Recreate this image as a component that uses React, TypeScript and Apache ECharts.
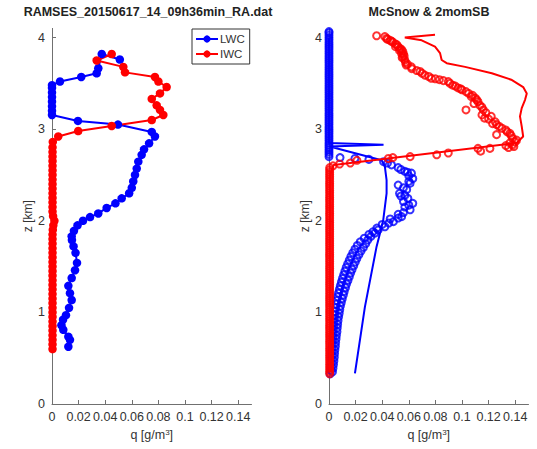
import React, { useEffect, useRef } from "react";
import * as echarts from "echarts";

// ---------- Left panel: RAMSES observation ([q g/m3, z km]) ----------
const obsLwc: [number, number][] = [
  [0.0123, 0.625], [0.0135, 0.70], [0.0123, 0.735], [0.0085, 0.81], [0.0071, 0.86], [0.0083, 0.92],
  [0.0105, 0.97], [0.0128, 1.05], [0.0148, 1.135], [0.0135, 1.21], [0.0123, 1.29], [0.0148, 1.375],
  [0.0173, 1.46], [0.0188, 1.54], [0.0177, 1.65], [0.0162, 1.72], [0.0150, 1.79], [0.0148, 1.83],
  [0.0165, 1.89], [0.0192, 1.95], [0.0233, 2.00], [0.0286, 2.04], [0.0348, 2.08], [0.0411, 2.14],
  [0.0477, 2.19], [0.0524, 2.245], [0.0580, 2.30], [0.0600, 2.36], [0.0611, 2.43], [0.0624, 2.50],
  [0.0637, 2.57], [0.0649, 2.645], [0.0674, 2.72], [0.0692, 2.78], [0.0730, 2.845], [0.0774, 2.92],
  [0.0750, 2.97], [0.0496, 3.05], [0.0195, 3.09], [0, 3.155], [0, 3.20], [0, 3.25], [0, 3.30],
  [0, 3.35], [0, 3.40], [0, 3.45], [0, 3.48], [0.0060, 3.52], [0.0220, 3.57], [0.0336, 3.61],
  [0.0348, 3.665], [0.0374, 3.82], [0.0510, 3.76],
];

const obsIwc: [number, number][] = [
  [0.0004, 0.60], [0.0004, 0.65], [0.0004, 0.70], [0.0004, 0.75], [0.0004, 0.80], [0.0004, 0.85],
  [0.0004, 0.90], [0.0004, 0.95], [0.0004, 1.00], [0.0004, 1.05], [0.0004, 1.10], [0.0004, 1.15],
  [0.0004, 1.20], [0.0004, 1.25], [0.0004, 1.30], [0.0004, 1.35], [0.0004, 1.40], [0.0004, 1.45],
  [0.0004, 1.50], [0.0004, 1.55], [0.0004, 1.60], [0.0004, 1.65], [0.0004, 1.70], [0.0004, 1.75],
  [0.0004, 1.80], [0.0004, 1.85], [0.0006, 1.90], [0.0010, 1.95], [0.0018, 2.00], [0.0008, 2.05],
  [0.0004, 2.10], [0.0004, 2.15], [0.0004, 2.20], [0.0004, 2.25], [0.0004, 2.30], [0.0004, 2.35],
  [0.0004, 2.40], [0.0004, 2.45], [0.0004, 2.50], [0.0004, 2.55], [0.0004, 2.60], [0.0004, 2.65],
  [0.0004, 2.70], [0.0004, 2.75], [0.0004, 2.80], [0.0006, 2.86], [0.0047, 2.92], [0.0197, 2.98],
  [0.0449, 3.035], [0.0750, 3.10], [0.0837, 3.155], [0.0812, 3.21], [0.0787, 3.26], [0.0750, 3.33],
  [0.0812, 3.39], [0.0862, 3.46], [0.0800, 3.52], [0.0774, 3.57], [0.0549, 3.62], [0.0536, 3.68],
  [0.0336, 3.75], [0.0449, 3.82],
];

// ---------- Right panel: McSnow (markers) & 2momSB (lines) ----------
// McSnow LWC: heights of the dense column of markers at q = 0 above cloud
const mcLwcColumnZ = [
  2.70, 2.725, 2.75, 2.775, 2.80, 2.825, 2.85, 2.875, 2.90, 2.925, 2.95, 2.975, 3.00, 3.025, 3.05,
  3.075, 3.10, 3.125, 3.15, 3.175, 3.20, 3.225, 3.25, 3.275, 3.30, 3.325, 3.35, 3.375, 3.40, 3.425,
  3.45, 3.475, 3.50, 3.525, 3.55, 3.575, 3.60, 3.625, 3.65, 3.675, 3.70, 3.725, 3.75, 3.775, 3.80,
  3.825, 3.85, 3.875, 3.90, 3.925, 3.95, 3.975, 4.00, 4.025, 4.05, 4.065,
];
const mcLwcColumnQ = 0;

const mcLwc: [number, number][] = [
  [0.0008, 0.33], [0.0026, 0.35], [0.0012, 0.37], [0.0030, 0.39], [0.0013, 0.41], [0.0034, 0.43],
  [0.0016, 0.45], [0.0037, 0.47], [0.0018, 0.49], [0.0040, 0.51], [0.0020, 0.53], [0.0042, 0.55],
  [0.0021, 0.57], [0.0044, 0.59], [0.0023, 0.61], [0.0048, 0.63], [0.0025, 0.65], [0.0050, 0.67],
  [0.0027, 0.69], [0.0053, 0.71], [0.0029, 0.73], [0.0056, 0.75], [0.0031, 0.77], [0.0060, 0.79],
  [0.0033, 0.81], [0.0062, 0.83], [0.0035, 0.85], [0.0065, 0.87], [0.0037, 0.89], [0.0068, 0.91],
  [0.0040, 0.93], [0.0072, 0.95], [0.0043, 0.97], [0.0077, 0.99], [0.0046, 1.01], [0.0081, 1.03],
  [0.0050, 1.05], [0.0086, 1.07], [0.0054, 1.09], [0.0093, 1.11], [0.0059, 1.13], [0.0100, 1.15],
  [0.0065, 1.17], [0.0108, 1.19], [0.0071, 1.21], [0.0115, 1.23], [0.0078, 1.25], [0.0124, 1.27],
  [0.0085, 1.29], [0.0132, 1.31], [0.0093, 1.33], [0.0143, 1.35], [0.0101, 1.37], [0.0153, 1.39],
  [0.0110, 1.41], [0.0163, 1.43], [0.0119, 1.45], [0.0174, 1.47], [0.0129, 1.49], [0.0186, 1.51],
  [0.0140, 1.53], [0.0198, 1.55], [0.0152, 1.57], [0.0210, 1.59], [0.0165, 1.61], [0.0225, 1.63],
  [0.0179, 1.65], [0.0241, 1.67], [0.0195, 1.69], [0.0259, 1.71], [0.0213, 1.73], [0.0276, 1.75],
  [0.0235, 1.77], [0.0292, 1.79], [0.0265, 1.81], [0.0315, 1.83], [0.0300, 1.85], [0.0345, 1.865],
  [0.0330, 1.88], [0.0370, 1.90], [0.0360, 1.92], [0.0420, 1.935], [0.0400, 1.96], [0.0450, 1.975],
  [0.0484, 1.99], [0.0460, 2.02], [0.0520, 2.03], [0.0546, 2.045], [0.0520, 2.07], [0.0560, 2.09],
  [0.0610, 2.12], [0.0570, 2.15], [0.0600, 2.17], [0.0630, 2.19], [0.0560, 2.21], [0.0593, 2.245],
  [0.0540, 2.27], [0.0570, 2.28], [0.0530, 2.30], [0.0584, 2.34], [0.0560, 2.36], [0.0520, 2.39],
  [0.0610, 2.41], [0.0600, 2.43], [0.0630, 2.46], [0.0600, 2.49], [0.0620, 2.52], [0.0590, 2.53],
  [0.0570, 2.54], [0.0540, 2.56], [0.0520, 2.58], [0.0470, 2.61], [0.0440, 2.63], [0.0410, 2.645],
  [0.0300, 2.67], [0.0195, 2.68], [0.0083, 2.69],
];

// McSnow IWC: dense column of markers at q ~ 0 below cloud top
const mcIwcColumnZ = [
  0.33, 0.355, 0.38, 0.405, 0.43, 0.455, 0.48, 0.505, 0.53, 0.555, 0.58, 0.605, 0.63, 0.655, 0.68,
  0.705, 0.73, 0.755, 0.78, 0.805, 0.83, 0.855, 0.88, 0.905, 0.93, 0.955, 0.98, 1.005, 1.03, 1.055,
  1.08, 1.105, 1.13, 1.155, 1.18, 1.205, 1.23, 1.255, 1.28, 1.305, 1.33, 1.355, 1.38, 1.405, 1.43,
  1.455, 1.48, 1.505, 1.53, 1.555, 1.58, 1.605, 1.63, 1.655, 1.68, 1.705, 1.73, 1.755, 1.78, 1.805,
  1.83, 1.855, 1.88, 1.905, 1.93, 1.955, 1.98, 2.005, 2.03, 2.055, 2.08, 2.105, 2.13, 2.155, 2.18,
  2.205, 2.23, 2.255, 2.28, 2.305, 2.33, 2.355, 2.38, 2.405, 2.43, 2.455, 2.48, 2.505, 2.53, 2.555,
  2.58,
];
const mcIwcColumnQ = 0.0005;

const mcIwc: [number, number][] = [
  [0.0030, 2.60], [0.0080, 2.62], [0.0160, 2.63], [0.0210, 2.66], [0.0446, 2.68], [0.0480, 2.69],
  [0.0610, 2.70], [0.0810, 2.72], [0.0897, 2.74], [0.1140, 2.76], [0.1120, 2.79], [0.1210, 2.79],
  [0.1350, 2.80], [0.1330, 2.82], [0.1390, 2.81], [0.1380, 2.83], [0.1360, 2.85], [0.1400, 2.86],
  [0.1410, 2.88], [0.1380, 2.90], [0.1370, 2.93], [0.1260, 2.94], [0.1360, 2.955], [0.1340, 2.97],
  [0.1330, 2.99], [0.1300, 3.01], [0.1280, 3.03], [0.1260, 3.05], [0.1230, 3.06], [0.1250, 3.08],
  [0.1200, 3.11], [0.1170, 3.12], [0.1220, 3.14], [0.1150, 3.155], [0.1180, 3.18], [0.1160, 3.21],
  [0.1030, 3.21], [0.1150, 3.24], [0.1135, 3.26], [0.1090, 3.28], [0.1120, 3.30], [0.1110, 3.32],
  [0.1100, 3.34], [0.1070, 3.355], [0.1080, 3.37], [0.1050, 3.39], [0.1030, 3.41], [0.1000, 3.43],
  [0.0990, 3.44], [0.0970, 3.45], [0.0950, 3.47], [0.0930, 3.48], [0.0910, 3.50], [0.0897, 3.52],
  [0.0860, 3.53], [0.0830, 3.54], [0.0800, 3.55], [0.0770, 3.555], [0.0750, 3.575], [0.0720, 3.59],
  [0.0700, 3.61], [0.0684, 3.63], [0.0660, 3.64], [0.0622, 3.66], [0.0620, 3.68], [0.0590, 3.71],
  [0.0580, 3.70], [0.0575, 3.73], [0.0570, 3.755], [0.0550, 3.78], [0.0555, 3.79], [0.0565, 3.80],
  [0.0560, 3.82], [0.0545, 3.83], [0.0555, 3.85], [0.0530, 3.86], [0.0545, 3.87], [0.0534, 3.88],
  [0.0500, 3.90], [0.0520, 3.90], [0.0510, 3.92], [0.0500, 3.93], [0.0480, 3.95], [0.0470, 3.96],
  [0.0460, 3.97], [0.0440, 3.98], [0.0433, 3.99], [0.0420, 4.01], [0.0358, 4.02],
];

const sbLwc: [number, number][] = [
  [0.0195, 0.335], [0.0270, 1.06], [0.0358, 1.72], [0.0383, 1.86], [0.0408, 2.01], [0.0420, 2.15],
  [0.0433, 2.30], [0.0433, 2.445], [0.0420, 2.59], [0.0396, 2.66], [0.0005, 2.81], [0.0410, 2.83],
  [0, 2.85], [0, 4.0],
];

const sbIwc: [number, number][] = [
  [0.0005, 0.35], [0.0008, 2.50], [0.0035, 2.61], [0.1410, 2.85], [0.1460, 2.92], [0.1449, 3.03],
  [0.1436, 3.14], [0.1449, 3.23], [0.1474, 3.32], [0.1487, 3.39], [0.1460, 3.46], [0.1370, 3.54],
  [0.1224, 3.61], [0.1023, 3.68], [0.0885, 3.72], [0.0847, 3.755], [0.0835, 3.83], [0.0797, 3.90],
  [0.0697, 3.97], [0.0570, 4.00], [0.0797, 4.03],
];

const xTicks = [0, 0.02, 0.04, 0.06, 0.08, 0.1, 0.12, 0.14];
const yTicks = [0, 1, 2, 3, 4];
const titles = ["RAMSES_20150617_14_09h36min_RA.dat", "McSnow & 2momSB"];

const BLUE = "#0000ff";
const RED = "#ff0000";
const AXIS = "#707070";
const TXT = "#333333";
const FONT = "Liberation Sans, Arial, sans-serif";

export default function App() {
  const ref = useRef<HTMLDivElement>(null);
  useEffect(() => {
    if (!ref.current) return;
    const chart = echarts.init(ref.current, undefined, { renderer: "svg" });
    const gridL = 52, gridW = 199.5, gridTop = 28.4, gridH = 375.6;
    const grids = [
      { left: gridL, top: gridTop, width: gridW, height: gridH },
      { left: 329, top: gridTop, width: gridW, height: gridH },
    ];
    const mkX = (i: number) => ({
      type: "value",
      gridIndex: i,
      min: 0,
      max: 0.15,
      name: "q [g/m{sup|3}]",
      nameLocation: "middle",
      nameGap: 24,
      nameTextStyle: {
        color: TXT, fontSize: 12.5, fontFamily: FONT,
        rich: { sup: { fontSize: 8, verticalAlign: "top", padding: [0, 0, 6, 0], color: TXT, fontFamily: FONT } },
      },
      axisLine: { show: true, onZero: false, lineStyle: { color: AXIS, width: 1 } },
      axisTick: { show: true, inside: true, length: 4, customValues: xTicks, lineStyle: { color: AXIS } },
      axisLabel: {
        customValues: xTicks, margin: 6, color: TXT, fontSize: 12.5, fontFamily: FONT,
        formatter: (v: number) => String(+v.toFixed(2)),
      },
      splitLine: { show: false },
    });
    const mkY = (i: number) => ({
      type: "value",
      gridIndex: i,
      min: 0,
      max: 4.1,
      name: "z [km]",
      nameLocation: "middle",
      nameGap: 17,
      nameRotate: 90,
      nameTextStyle: { color: TXT, fontSize: 12, fontFamily: FONT },
      axisLine: { show: true, onZero: false, lineStyle: { color: AXIS, width: 1 } },
      axisTick: { show: true, inside: true, length: 4, customValues: yTicks, lineStyle: { color: AXIS } },
      axisLabel: { customValues: yTicks, margin: 7, color: TXT, fontSize: 12.5, fontFamily: FONT },
      splitLine: { show: false },
    });
    const hollow = (color: string) => ({ color: "transparent", borderColor: color, borderWidth: 2 });
    const mcLwcAll: [number, number][] = [
      ...mcLwc,
      ...mcLwcColumnZ.map((z) => [mcLwcColumnQ, z] as [number, number]),
    ];
    const mcIwcAll: [number, number][] = [
      ...mcIwcColumnZ.map((z) => [mcIwcColumnQ, z] as [number, number]),
      ...mcIwc,
    ];
    chart.setOption({
      animation: false,
      backgroundColor: "#ffffff",
      grid: grids,
      xAxis: [mkX(0), mkX(1)],
      yAxis: [mkY(0), mkY(1)],
      legend: {
        data: ["LWC", "IWC"],
        orient: "vertical",
        left: 192,
        top: 29,
        padding: [4, 5, 4, 3],
        itemGap: 3,
        itemWidth: 22,
        itemHeight: 9,
        borderColor: "#333",
        borderWidth: 1,
        backgroundColor: "#fff",
        textStyle: { color: TXT, fontSize: 11.5, fontFamily: FONT, padding: [0, 0, 0, -3] },
      },
      graphic: titles.map((t, i) => ({
        type: "text",
        x: i === 0 ? 148 : 429,
        y: 12,
        style: {
          text: t, fill: "#222", font: `bold 12.5px ${FONT}`,
          textAlign: "center", textVerticalAlign: "middle",
        },
      })),
      series: [
        {
          name: "LWC", type: "line", xAxisIndex: 0, yAxisIndex: 0, data: obsLwc,
          symbol: "circle", symbolSize: 8.5, showSymbol: true,
          lineStyle: { color: BLUE, width: 2 }, itemStyle: { color: BLUE },
        },
        {
          name: "IWC", type: "line", xAxisIndex: 0, yAxisIndex: 0, data: obsIwc,
          symbol: "circle", symbolSize: 8.5, showSymbol: true,
          lineStyle: { color: RED, width: 2 }, itemStyle: { color: RED },
        },
        {
          name: "McSnow LWC", type: "scatter", xAxisIndex: 1, yAxisIndex: 1, data: mcLwcAll,
          symbol: "circle", symbolSize: 7, itemStyle: hollow(BLUE),
        },
        {
          name: "McSnow IWC", type: "scatter", xAxisIndex: 1, yAxisIndex: 1, data: mcIwcAll,
          symbol: "circle", symbolSize: 7, itemStyle: hollow(RED),
        },
        {
          name: "2momSB LWC", type: "line", xAxisIndex: 1, yAxisIndex: 1, data: sbLwc,
          showSymbol: false, symbol: "none", lineStyle: { color: BLUE, width: 2 },
        },
        {
          name: "2momSB IWC", type: "line", xAxisIndex: 1, yAxisIndex: 1, data: sbIwc,
          showSymbol: false, symbol: "none", lineStyle: { color: RED, width: 2 },
        },
      ],
    });
    return () => chart.dispose();
  }, []);
  return (
    <div
      ref={ref}
      style={{ position: "fixed", left: 0, top: 0, width: 537, height: 449, background: "#fff" }}
    />
  );
}
